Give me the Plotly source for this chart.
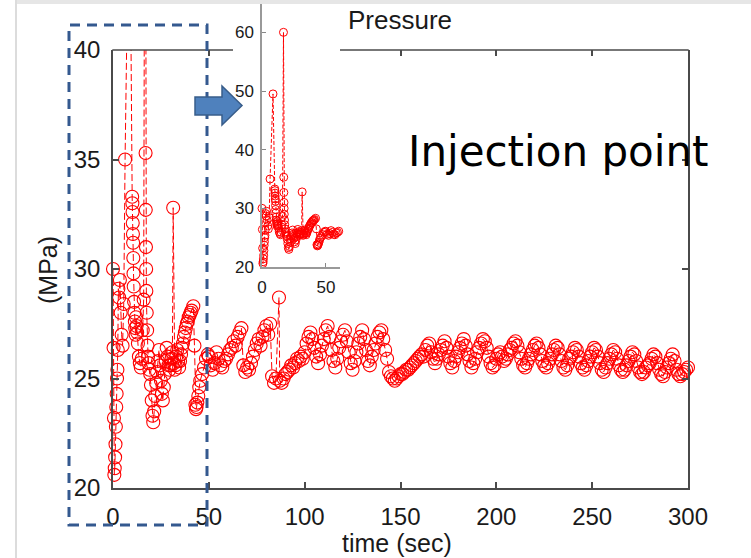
import plotly.graph_objects as go

# ---------------- data ----------------
time_early = [0.0, 0.3, 0.5, 0.7, 0.9, 1.1, 1.3, 1.5, 1.7, 1.9, 2.1, 2.3, 2.5,
              2.8, 3.2, 3.6, 4.0, 4.5, 5.0, 5.6, 6.3, 8.6,
              10.0, 10.1, 10.2, 10.3, 10.4, 10.5, 10.6, 10.7, 10.8,
              11.0, 11.2, 11.4, 11.6, 11.8,
              12.0, 12.3, 12.6, 13.0, 13.5, 14.0, 14.5, 15.0, 15.5, 16.0,
              16.8,
              17.0, 17.1, 17.2, 17.3, 17.4, 17.6, 17.8,
              18.0, 18.3, 18.6, 19.0, 19.4, 19.8,
              20.2, 20.6, 21.0, 21.5, 22.0, 22.5, 23.0, 23.5, 24.0, 24.5, 25.0, 25.5,
              26.0, 26.5, 27.0, 27.5, 28.0, 28.5, 29.0, 29.5, 30.0, 30.5, 31.0,
              31.4,
              31.8, 32.2, 32.6,
              33.0, 33.5, 34.0, 34.5, 35.0, 35.5, 36.0, 36.5, 37.0, 37.5, 38.0, 38.5,
              39.0, 39.5, 40.0, 40.5, 41.0,
              41.9, 42.5,
              43.0, 43.3, 43.6,
              44.0, 44.5, 45.0, 45.5,
              46.5, 47.5, 48.5, 49.5]
pressure_early = [30.0, 26.4, 23.2, 20.6, 20.9, 21.4, 22.0, 22.8, 23.7, 24.3, 25.0, 25.4, 26.3,
                  29.1, 28.7, 29.5, 28.0, 27.0, 26.5, 28.4, 35.0, 49.5,
                  33.3, 33.0, 32.6, 32.1, 31.6, 31.2, 30.5, 29.8, 29.2,
                  28.5, 28.0, 27.6, 27.3, 27.0,
                  27.8, 27.4, 27.1, 26.6, 26.0, 25.7, 25.5, 25.9, 27.2, 28.6,
                  60.0,
                  35.3, 32.7, 31.0, 30.0, 29.0, 28.0, 27.2,
                  26.5, 26.0, 25.7, 25.4, 25.2, 24.7,
                  24.0, 23.3, 23.0, 23.5, 24.2, 24.8, 25.3, 25.8, 26.3, 25.6, 24.9, 24.3,
                  24.0, 24.6, 25.2, 25.8, 26.4, 26.0, 25.6, 25.4, 25.6, 25.9, 26.2,
                  32.8,
                  25.7, 25.4, 25.6,
                  26.0, 26.3, 25.8, 25.5, 25.8, 26.1, 26.4, 26.6, 26.9, 27.1, 27.3, 27.5,
                  27.6, 27.8, 27.9, 28.0, 28.1,
                  28.3, 26.5,
                  23.8, 23.6, 23.7,
                  23.9, 24.2, 24.6, 24.9,
                  25.2, 25.5, 25.9, 26.1]

time_late = [50, 51, 52, 53, 54, 55, 56, 57, 58, 59,
             60, 61, 62, 63, 64, 65, 66, 67, 68, 69,
             70, 71, 72, 73, 74, 75, 76, 77, 78, 79,
             80, 81, 82, 83, 84, 85, 86.6, 87, 88, 89,
             90, 91, 92, 93, 94, 95, 96, 97, 98, 99,
             100, 101, 102, 103, 104, 105, 106, 107, 108, 109,
             110, 111, 112, 113, 114, 115, 116, 117, 118, 119,
             120, 121, 122, 123, 124, 125, 126, 127, 128, 129,
             130, 131, 132, 133, 134, 135, 136, 137, 138, 139,
             140, 141, 142, 143, 144, 145, 146, 147, 148, 149,
             150, 151, 152, 153, 154, 155, 156, 157, 158, 159,
             160, 161, 162, 163, 164, 165, 166, 167, 168, 169,
             170, 171, 172, 173, 174, 175, 176, 177, 178, 179,
             180, 181, 182, 183, 184, 185, 186, 187, 188, 189,
             190, 191, 192, 193, 194, 195, 196, 197, 198, 199,
             200, 201, 202, 203, 204, 205, 206, 207, 208, 209,
             210, 211, 212, 213, 214, 215, 216, 217, 218, 219,
             220, 221, 222, 223, 224, 225, 226, 227, 228, 229,
             230, 231, 232, 233, 234, 235, 236, 237, 238, 239,
             240, 241, 242, 243, 244, 245, 246, 247, 248, 249,
             250, 251, 252, 253, 254, 255, 256, 257, 258, 259,
             260, 261, 262, 263, 264, 265, 266, 267, 268, 269,
             270, 271, 272, 273, 274, 275, 276, 277, 278, 279,
             280, 281, 282, 283, 284, 285, 286, 287, 288, 289,
             290, 291, 292, 293, 294, 295, 296, 297, 298, 299,
             300]
pressure_late = [26.0, 25.6, 25.4, 25.7, 26.2, 25.9, 25.6, 25.5, 25.8, 25.9,
                 26.1, 26.3, 26.4, 26.7, 26.5, 26.9, 27.1, 27.3, 25.6, 25.3,
                 25.5, 25.4, 25.7, 26.0, 26.3, 26.6, 26.8, 26.5, 26.9, 27.2,
                 27.4, 27.0, 27.5, 25.1, 24.8, 25.0, 28.7, 24.9, 24.8, 25.0,
                 25.2, 25.3, 25.4, 25.6, 25.5, 25.7, 25.9, 25.8, 26.0, 25.9,
                 26.2, 26.6, 26.9, 27.1, 26.8, 26.4, 26.0, 25.7, 26.1, 26.5,
                 26.8, 27.2, 27.4, 26.9, 26.3, 25.8, 25.5, 25.9, 26.4, 26.7,
                 27.0, 27.2, 26.7, 26.2, 25.7, 25.4, 25.8, 26.2, 26.6, 26.9,
                 27.2, 26.8, 26.3, 25.8, 25.6, 26.0, 26.3, 26.6, 26.9, 27.1,
                 27.2, 26.8, 26.3, 25.9, 25.3, 25.1, 25.0, 24.9, 25.0, 25.1,
                 25.2, 25.2, 25.3, 25.4, 25.4, 25.5, 25.6, 25.7, 25.8, 25.9,
                 26.0, 26.1, 26.0, 26.3, 26.5, 26.6, 26.2, 25.9, 25.7, 25.9,
                 26.1, 26.3, 26.5, 26.7, 26.4, 26.0, 25.7, 25.5, 25.8, 26.0,
                 26.2, 26.4, 26.6, 26.8, 26.5, 26.1, 25.8, 25.5, 25.7, 25.9,
                 26.2, 26.4, 26.6, 26.8, 26.7, 26.4, 26.0, 25.7, 25.5, 25.6,
                 25.9, 26.1, 26.2, 26.0, 25.8, 25.9, 26.1, 26.3, 26.4, 26.6,
                 26.7, 26.5, 26.2, 25.9, 25.6, 25.5, 25.7, 25.9, 26.1, 26.3,
                 26.5, 26.6, 26.4, 26.1, 25.8, 25.6, 25.5, 25.7, 25.9, 26.1,
                 26.3, 26.5, 26.4, 26.1, 25.8, 25.5, 25.4, 25.6, 25.9, 26.0,
                 26.2, 26.4, 26.3, 26.0, 25.7, 25.5, 25.4, 25.6, 25.8, 26.0,
                 26.2, 26.4, 26.3, 26.0, 25.7, 25.4, 25.3, 25.5, 25.7, 25.9,
                 26.1, 26.3, 26.2, 25.9, 25.6, 25.4, 25.3, 25.4, 25.6, 25.8,
                 26.0, 26.2, 26.1, 25.8, 25.5, 25.3, 25.2, 25.3, 25.5, 25.6,
                 25.7, 25.9, 26.1, 26.0, 25.7, 25.4, 25.2, 25.1, 25.3, 25.5,
                 25.7, 25.9, 26.1, 25.8, 25.4, 25.2, 25.1, 25.2, 25.3, 25.4,
                 25.5]

main_x_ticks = [0, 50, 100, 150, 200, 250, 300]
main_y_ticks = [20, 25, 30, 35, 40]
inset_x_ticks = [0, 50]
inset_y_ticks = [20, 30, 40, 50, 60]
top_tick_vals = [50, 150, 200, 250]

time_all = time_early + time_late
pressure_all = pressure_early + pressure_late
inset_time = [t for t in time_all if t <= 60]
inset_pressure = [p for t, p in zip(time_all, pressure_all) if t <= 60]

# ---------------- geometry helpers ----------------
W, H = 751, 558
def px(x):
    return x / W
def py(y):
    return 1 - y / H

AX = "#4a4a4a"
FONT = "Liberation Sans, Arial, sans-serif"
RED = "#ff0000"

fig = go.Figure()

fig.add_trace(go.Scatter(
    x=time_all, y=pressure_all, mode="lines+markers",
    line=dict(color=RED, width=1, dash="7px,3px"),
    marker=dict(symbol="circle-open", size=13, color=RED, line=dict(width=1.1)),
    cliponaxis=False, showlegend=False, hoverinfo="skip",
    xaxis="x", yaxis="y"))

fig.add_trace(go.Scatter(
    x=inset_time, y=inset_pressure, mode="lines+markers",
    line=dict(color=RED, width=1, dash="4px,2px"),
    marker=dict(symbol="circle-open", size=8, color=RED, line=dict(width=1)),
    cliponaxis=False, showlegend=False, hoverinfo="skip",
    xaxis="x2", yaxis="y2"))

# empty trace to carry the top tick axis
fig.add_trace(go.Scatter(x=[], y=[], xaxis="x3", yaxis="y", showlegend=False, hoverinfo="skip"))

fig.update_layout(
    width=W, height=H,
    margin=dict(l=0, r=0, t=0, b=0, pad=0, autoexpand=False),
    paper_bgcolor="white", plot_bgcolor="white",
    showlegend=False,
    xaxis=dict(domain=[px(113), px(688)], range=[0, 300], anchor="y",
               tickvals=main_x_ticks, ticks="inside", ticklen=6, tickwidth=1.5, tickcolor=AX,
               showline=True, linecolor=AX, linewidth=1.5, mirror=False,
               showgrid=False, zeroline=False, automargin=False,
               tickfont=dict(family=FONT, size=24, color="#1a1a1a"),
               ticklabelstandoff=6),
    yaxis=dict(domain=[py(488), py(50)], range=[20, 40], anchor="x",
               tickvals=main_y_ticks, ticks="inside", ticklen=6, tickwidth=1.5, tickcolor=AX,
               showline=True, linecolor=AX, linewidth=1.5, mirror="ticks",
               showgrid=False, zeroline=False, automargin=False,
               tickfont=dict(family=FONT, size=24, color="#1a1a1a"),
               ticklabelstandoff=6),
    xaxis3=dict(overlaying="x", side="top", anchor="y", range=[0, 300],
                tickvals=top_tick_vals, ticks="inside", ticklen=6, tickwidth=1.5, tickcolor=AX,
                showticklabels=False, showline=False, showgrid=False, zeroline=False,
                automargin=False),
    xaxis2=dict(domain=[px(262), px(340)], range=[0, 61], anchor="y2",
                tickvals=inset_x_ticks, ticks="inside", ticklen=4, tickwidth=1, tickcolor="#888",
                showline=True, linecolor="#999", linewidth=1.5,
                showgrid=False, zeroline=False, automargin=False,
                tickfont=dict(family=FONT, size=17, color="#1a1a1a"),
                ticklabelstandoff=4),
    yaxis2=dict(domain=[py(267), py(3)], range=[20, 65], anchor="x2",
                tickvals=inset_y_ticks, ticks="inside", ticklen=4, tickwidth=1, tickcolor="#888",
                showline=True, linecolor="#999", linewidth=1.5,
                showgrid=False, zeroline=False, automargin=False,
                tickfont=dict(family=FONT, size=17, color="#1a1a1a"),
                ticklabelstandoff=3),
)

shapes = [
    # top frame of the main axes, interrupted by the inset
    dict(type="line", xref="paper", yref="paper", x0=px(112.3), x1=px(233), y0=py(50), y1=py(50),
         line=dict(color=AX, width=1.5), layer="above"),
    dict(type="line", xref="paper", yref="paper", x0=px(340), x1=px(688.7), y0=py(50), y1=py(50),
         line=dict(color=AX, width=1.5), layer="above"),
    # dashed blue zoom rectangle
    dict(type="rect", xref="paper", yref="paper", x0=px(69), x1=px(207), y0=py(525), y1=py(25),
         line=dict(color="#34598F", width=3, dash="10px,7px"), fillcolor="rgba(0,0,0,0)", layer="above"),
    # blue arrow
    dict(type="path", xref="paper", yref="paper",
         path=("M {0},{1} L {2},{1} L {2},{3} L {4},{5} L {2},{6} L {2},{7} L {0},{7} Z"
               .format(px(195), py(97), px(222), py(86), px(242), py(105.5), py(125), py(115))),
         fillcolor="#4F81BD", line=dict(color="#385D8A", width=1.5), layer="above"),
    # light screenshot frame
    dict(type="rect", xref="paper", yref="paper", x0=px(16), x1=px(751), y0=py(4), y1=py(0),
         fillcolor="#E6E6E6", line=dict(width=0), layer="above"),
    dict(type="line", xref="paper", yref="paper", x0=px(16), x1=px(16), y0=py(558), y1=py(0),
         line=dict(color="#DCDCDC", width=2), layer="above"),
]
fig.update_layout(shapes=shapes)

annotations = [
    dict(text="time (sec)", xref="paper", yref="paper", x=px(397), y=py(543),
         xanchor="center", yanchor="middle", showarrow=False,
         font=dict(family=FONT, size=25, color="#1a1a1a")),
    dict(text="(MPa)", xref="paper", yref="paper", x=px(48), y=py(270), textangle=-90,
         xanchor="center", yanchor="middle", showarrow=False,
         font=dict(family=FONT, size=25, color="#1a1a1a")),
    dict(text="Pressure", xref="paper", yref="paper", x=px(399.5), y=py(20),
         xanchor="center", yanchor="middle", showarrow=False,
         font=dict(family=FONT, size=26, color="#1a1a1a")),
    dict(text="Injection point", xref="paper", yref="paper", x=px(558.5), y=py(151),
         xanchor="center", yanchor="middle", showarrow=False,
         font=dict(family="DejaVu Sans", size=42, color="#000000")),
]
fig.update_layout(annotations=annotations)

fig.write_html("out.html")
